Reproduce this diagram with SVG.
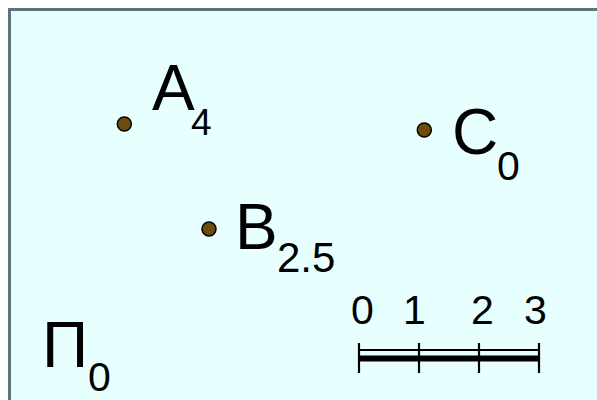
<svg xmlns="http://www.w3.org/2000/svg" width="597" height="400" viewBox="0 0 597 400">
<style>
.t{font-family:"Liberation Sans",Arial,sans-serif;fill:#000}
.big{font-size:64px}
.sub{font-size:41px}
.pt{fill:#6b4c0c;stroke:#000;stroke-width:1.5}
.bar{stroke:#000;fill:none}
</style>
<rect width="597" height="400" fill="#ffffff"/>
<rect x="9.5" y="9.5" width="600" height="400" fill="#e8ffff" stroke="#5c7380" stroke-width="3"/>
<g id="pointA">
<circle class="pt" cx="124.3" cy="124" r="7"/>
<text class="t big" x="152" y="110">A</text>
<text class="t" style="font-size:37px" x="191" y="135">4</text>
</g>
<g id="pointB">
<circle class="pt" cx="209" cy="229" r="7"/>
<text class="t big" x="235" y="249">B</text>
<text class="t" style="font-size:42px" x="277" y="272">2.5</text>
</g>
<g id="pointC">
<circle class="pt" cx="424.3" cy="130" r="7"/>
<text class="t big" x="452" y="154">C</text>
<text class="t sub" x="497" y="180">0</text>
</g>
<g id="plane">
<text class="t big" x="42" y="367">Π</text>
<text class="t sub" x="88" y="391">0</text>
</g>
<g id="scale">
<text class="t" style="font-size:41px" x="351" y="324">0</text>
<text class="t" style="font-size:41px" x="403" y="324">1</text>
<text class="t" style="font-size:41px" x="471" y="324">2</text>
<text class="t" style="font-size:41px" x="524" y="324">3</text>
<line class="bar" x1="359" y1="350" x2="539" y2="350" stroke-width="2"/>
<line class="bar" x1="359" y1="358.5" x2="539" y2="358.5" stroke-width="6"/>
<line class="bar" x1="359" y1="343" x2="359" y2="373" stroke-width="2.2"/>
<line class="bar" x1="419" y1="343" x2="419" y2="373" stroke-width="2.2"/>
<line class="bar" x1="479" y1="343" x2="479" y2="373" stroke-width="2.2"/>
<line class="bar" x1="539" y1="343" x2="539" y2="373" stroke-width="2.2"/>
</g>
</svg>
